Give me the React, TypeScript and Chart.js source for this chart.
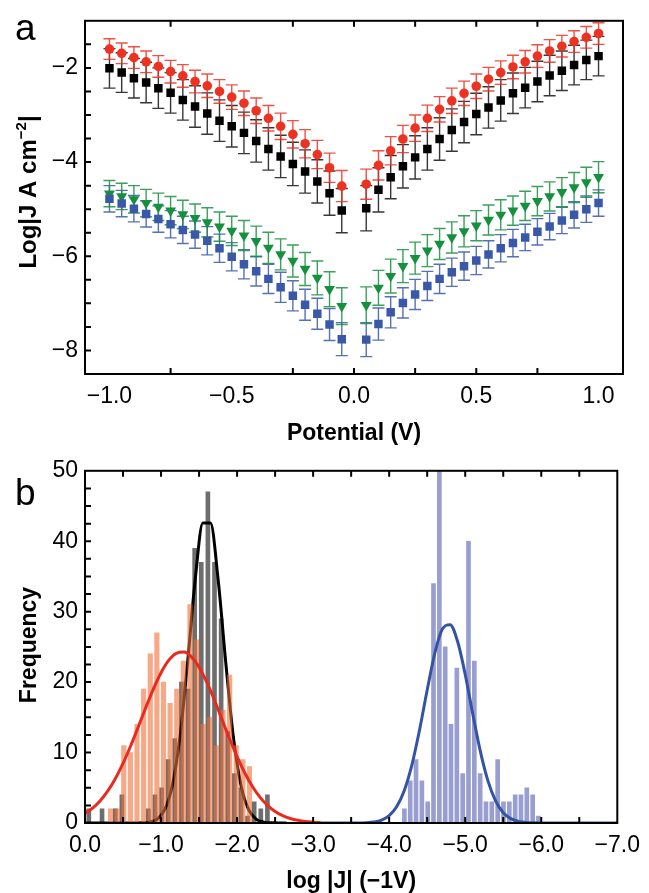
import React, { useEffect, useRef } from 'react';
import { Chart, registerables } from 'chart.js';
Chart.register(...registerables);

const FONT = "'Liberation Sans', Arial, Helvetica, sans-serif";
Chart.defaults.font.family = FONT;

// ---------- panel a data ----------
const potentials = [-1.0, -0.95, -0.9, -0.85, -0.8, -0.75, -0.7, -0.65, -0.6, -0.55, -0.5, -0.45, -0.4, -0.35, -0.3, -0.25, -0.2, -0.15, -0.1, -0.05,
  0.05, 0.1, 0.15, 0.2, 0.25, 0.3, 0.35, 0.4, 0.45, 0.5, 0.55, 0.6, 0.65, 0.7, 0.75, 0.8, 0.85, 0.9, 0.95, 1.0];
const redLogJ = [-1.60, -1.69, -1.78, -1.87, -1.97, -2.08, -2.17, -2.29, -2.38, -2.50, -2.62, -2.75, -2.91, -3.07, -3.24, -3.41, -3.61, -3.84, -4.12, -4.51,
  -4.47, -4.07, -3.76, -3.51, -3.28, -3.07, -2.88, -2.70, -2.54, -2.39, -2.24, -2.10, -1.98, -1.87, -1.75, -1.64, -1.54, -1.44, -1.35, -1.27];
const blackLogJ = [-2.01, -2.10, -2.22, -2.31, -2.43, -2.53, -2.68, -2.82, -2.97, -3.12, -3.24, -3.38, -3.55, -3.72, -3.88, -4.04, -4.20, -4.41, -4.66, -5.03,
  -4.98, -4.59, -4.32, -4.09, -3.90, -3.72, -3.51, -3.32, -3.15, -2.98, -2.84, -2.69, -2.54, -2.42, -2.29, -2.16, -2.06, -1.94, -1.83, -1.75];
const greenLogJ = [-4.67, -4.73, -4.79, -4.87, -4.95, -5.03, -5.11, -5.19, -5.28, -5.37, -5.46, -5.56, -5.68, -5.82, -5.96, -6.10, -6.27, -6.46, -6.70, -7.06,
  -7.04, -6.67, -6.42, -6.21, -6.04, -5.88, -5.74, -5.60, -5.47, -5.35, -5.23, -5.12, -5.03, -4.93, -4.83, -4.73, -4.64, -4.54, -4.43, -4.32];
const blueLogJ = [-4.78, -4.88, -4.99, -5.10, -5.21, -5.32, -5.44, -5.54, -5.67, -5.83, -6.01, -6.17, -6.32, -6.48, -6.66, -6.84, -7.03, -7.22, -7.45, -7.76,
  -7.77, -7.44, -7.19, -6.99, -6.81, -6.63, -6.48, -6.34, -6.21, -6.09, -5.96, -5.83, -5.72, -5.60, -5.48, -5.37, -5.24, -5.12, -5.00, -4.87];
const redErr = [0.22, 0.22, 0.23, 0.23, 0.23, 0.24, 0.24, 0.24, 0.25, 0.25, 0.26, 0.26, 0.27, 0.27, 0.28, 0.29, 0.30, 0.30, 0.31, 0.33,
  0.32, 0.31, 0.30, 0.29, 0.28, 0.28, 0.27, 0.27, 0.26, 0.26, 0.25, 0.25, 0.25, 0.24, 0.24, 0.24, 0.23, 0.23, 0.23, 0.23];
const blackErr = [0.42, 0.42, 0.42, 0.43, 0.43, 0.43, 0.43, 0.44, 0.44, 0.44, 0.44, 0.44, 0.45, 0.45, 0.45, 0.46, 0.46, 0.46, 0.47, 0.47,
  0.48, 0.47, 0.46, 0.46, 0.46, 0.45, 0.45, 0.45, 0.44, 0.44, 0.44, 0.44, 0.43, 0.43, 0.43, 0.43, 0.42, 0.42, 0.42, 0.42];
const greenErr = [0.28, 0.28, 0.29, 0.29, 0.29, 0.30, 0.30, 0.30, 0.31, 0.31, 0.31, 0.32, 0.32, 0.33, 0.33, 0.34, 0.35, 0.36, 0.37, 0.39,
  0.39, 0.37, 0.36, 0.35, 0.34, 0.34, 0.33, 0.33, 0.33, 0.32, 0.32, 0.32, 0.31, 0.31, 0.31, 0.31, 0.31, 0.32, 0.32, 0.33];
const blueErr = [0.28, 0.28, 0.28, 0.28, 0.28, 0.29, 0.29, 0.29, 0.30, 0.30, 0.30, 0.31, 0.31, 0.31, 0.32, 0.32, 0.33, 0.33, 0.34, 0.35,
  0.36, 0.34, 0.33, 0.32, 0.32, 0.31, 0.31, 0.30, 0.30, 0.30, 0.29, 0.29, 0.29, 0.28, 0.28, 0.28, 0.28, 0.28, 0.28, 0.28];
const xLabelTicksA = [-1.0, -0.5, 0.0, 0.5, 1.0];
const yLabelTicksA = [-8, -6, -4, -2];
const xMarkTicksA = [-0.75, -0.25, 0.0, 0.25, 0.5, 0.75];
const yMarkTicksA = [-8, -7.5, -7, -6.5, -6, -5.5, -5, -4.5, -4, -3.5, -3, -2.5, -2, -1.5];

// ---------- panel b data ----------
const blackBinX = [-0.05, -0.137, -0.224, -0.311, -0.398, -0.485, -0.572, -0.659, -0.746, -0.833, -0.92, -1.007, -1.094, -1.181, -1.268, -1.355, -1.442, -1.529, -1.616, -1.703, -1.79, -1.877, -1.964, -2.051, -2.138, -2.225, -2.312, -2.399];
const blackCounts = [2, 0, 2, 0, 2, 4, 0, 0, 0, 2, 4, 5, 9, 12, 20, 19, 39, 37, 47, 37, 29, 13, 7, 5, 1, 3, 2, 4];
const orangeBinX = [-0.336, -0.423, -0.51, -0.597, -0.684, -0.771, -0.858, -0.945, -1.032, -1.119, -1.206, -1.293, -1.38, -1.467, -1.554, -1.641, -1.728, -1.815, -1.902, -1.989, -2.076, -2.163];
const orangeCounts = [2, 2, 11, 10, 14, 19, 24, 27, 20, 17, 19, 23, 31, 26, 14, 15, 11, 16, 21, 11, 9, 8];
const blueBinX = [-4.2, -4.277, -4.353, -4.43, -4.507, -4.583, -4.66, -4.737, -4.813, -4.89, -4.967, -5.043, -5.12, -5.197, -5.273, -5.35, -5.427, -5.503, -5.58, -5.657, -5.733, -5.81, -5.887, -5.963];
const blueCounts = [2, 6, 9, 6, 3, 34, 50, 25, 14, 22, 7, 40, 23, 7, 3, 3, 9, 3, 3, 4, 4, 5, 4, 1];
const redFitX = [0, -0.1, -0.2, -0.3, -0.4, -0.5, -0.6, -0.7, -0.8, -0.9, -1.0, -1.1, -1.2, -1.3, -1.4, -1.5, -1.6, -1.7, -1.8, -1.9, -2.0, -2.1, -2.2, -2.3, -2.4, -2.5, -2.6, -2.7, -2.8, -2.9, -3.0, -3.1];
const redFitY = [1.38, 2.12, 3.17, 4.55, 6.32, 8.46, 10.93, 13.63, 16.40, 19.05, 21.34, 23.08, 24.09, 24.26, 23.58, 22.12, 20.02, 17.49, 14.74, 11.99, 9.41, 7.13, 5.21, 3.68, 2.50, 1.64, 1.04, 0.64, 0.38, 0.21, 0.12, 0.06];
const blackFitX = [0, -0.55, -0.65, -0.75, -0.85, -0.95, -1.05, -1.15, -1.25, -1.35, -1.45, -1.55, -1.65, -1.75, -1.85, -1.95, -2.05, -2.15, -2.25, -2.35, -2.45, -2.55, -2.65];
const blackFitY = [0, 0, 0.01, 0.02, 0.13, 0.56, 1.92, 5.39, 12.33, 22.91, 34.64, 42.59, 42.59, 34.64, 22.91, 12.33, 5.39, 1.92, 0.56, 0.13, 0.02, 0, 0];
const blueFitX = [-3.1, -3.3, -3.5, -3.7, -3.8, -3.9, -4.0, -4.1, -4.2, -4.3, -4.4, -4.5, -4.6, -4.7, -4.8, -4.9, -5.0, -5.1, -5.2, -5.3, -5.4, -5.5, -5.6, -5.7, -5.8, -5.9, -6.0, -6.5, -7.0];
const blueFitY = [0, 0, 0.01, 0.05, 0.15, 0.42, 1.05, 2.34, 4.66, 8.30, 13.23, 18.88, 24.10, 27.54, 28.16, 25.76, 21.09, 15.45, 10.13, 5.94, 3.12, 1.47, 0.62, 0.23, 0.08, 0.02, 0, 0, 0];
const xLabelTicksB = [0, -1, -2, -3, -4, -5, -6, -7];
const yLabelTicksB = [0, 10, 20, 30, 40, 50];
const xMarkTicksB = [-0.5, -1, -1.5, -2, -2.5, -3, -3.5, -4, -4.5, -5, -5.5, -6, -6.5];
const yMarkTicksB = [2.5, 5, 7.5, 10, 12.5, 15, 17.5, 20, 22.5, 25, 27.5, 30, 32.5, 35, 37.5, 40, 42.5, 45, 47.5];

const W = 649;
const HA = 450;
const HB = 443;

const minus = (s: string) => s.replace('-', '\u2212');
const fmt1 = (v: number) => minus(Number(v).toFixed(1));
const fmt0 = (v: number) => minus(String(Math.round(Number(v))));

const pairs = (xs: number[], ys: number[]) => xs.map((x, i) => ({ x, y: ys[i] }));

const errorBarPlugin = {
  id: 'errorBars',
  beforeDatasetsDraw(chart: any) {
    const { ctx } = chart;
    const x = chart.scales.x;
    const y = chart.scales.y;
    chart.data.datasets.forEach((ds: any) => {
      if (!ds.errors) return;
      ctx.save();
      ctx.strokeStyle = ds.errorColor;
      ctx.lineWidth = 1.4;
      ds.data.forEach((pt: any, j: number) => {
        const px = x.getPixelForValue(pt.x);
        const yt = y.getPixelForValue(pt.y + ds.errors[j]);
        const yb = y.getPixelForValue(pt.y - ds.errors[j]);
        ctx.beginPath();
        ctx.moveTo(px, yt); ctx.lineTo(px, yb);
        ctx.moveTo(px - 6, yt); ctx.lineTo(px + 6, yt);
        ctx.moveTo(px - 6, yb); ctx.lineTo(px + 6, yb);
        ctx.stroke();
      });
      ctx.restore();
    });
  },
};

function framePlugin(xMarks: number[], yMarks: number[], decorate: (ctx: CanvasRenderingContext2D, chart: any) => void) {
  return {
    id: 'frameTicks',
    afterDraw(chart: any) {
      const { ctx, chartArea: a } = chart;
      const x = chart.scales.x;
      const y = chart.scales.y;
      ctx.save();
      ctx.strokeStyle = '#000';
      ctx.lineWidth = 2;
      ctx.strokeRect(a.left, a.top, a.right - a.left, a.bottom - a.top);
      ctx.beginPath();
      xMarks.forEach((v) => {
        const px = x.getPixelForValue(v);
        ctx.moveTo(px, a.bottom); ctx.lineTo(px, a.bottom - 6);
        ctx.moveTo(px, a.top); ctx.lineTo(px, a.top + 6);
      });
      yMarks.forEach((v) => {
        const py = y.getPixelForValue(v);
        ctx.moveTo(a.left, py); ctx.lineTo(a.left + 6, py);
      });
      ctx.stroke();
      ctx.fillStyle = '#000';
      decorate(ctx, chart);
      ctx.restore();
    },
  };
}

function drawRotated(ctx: CanvasRenderingContext2D, cx: number, cy: number, parts: { t: string; size: number; rise: number }[]) {
  ctx.save();
  ctx.translate(cx, cy);
  ctx.rotate(-Math.PI / 2);
  let total = 0;
  const widths = parts.map((p) => {
    ctx.font = `bold ${p.size}px ${FONT}`;
    const w = ctx.measureText(p.t).width;
    total += w;
    return w;
  });
  let x0 = -total / 2;
  ctx.textBaseline = 'alphabetic';
  ctx.textAlign = 'left';
  parts.forEach((p, i) => {
    ctx.font = `bold ${p.size}px ${FONT}`;
    ctx.fillText(p.t, x0, 8.5 - p.rise);
    x0 += widths[i];
  });
  ctx.restore();
}

const tickFont = { size: 23, family: FONT };

export default function App() {
  const refA = useRef<HTMLCanvasElement>(null);
  const refB = useRef<HTMLCanvasElement>(null);

  useEffect(() => {
    const decorateA = (ctx: CanvasRenderingContext2D, chart: any) => {
      const a = chart.chartArea;
      ctx.font = `37px ${FONT}`;
      ctx.textAlign = 'left';
      ctx.textBaseline = 'alphabetic';
      ctx.fillText('a', 15, 40);
      ctx.font = `bold 23px ${FONT}`;
      ctx.textAlign = 'center';
      ctx.fillText('Potential (V)', (a.left + a.right) / 2, 440);
      drawRotated(ctx, 27, 192, [
        { t: 'Log|J A cm', size: 24, rise: 0 },
        { t: '\u22122', size: 15, rise: 10 },
        { t: '|', size: 24, rise: 0 },
      ]);
    };
    const chartA = new Chart(refA.current!, {
      type: 'scatter',
      data: {
        datasets: [
          { label: 'black', data: pairs(potentials, blackLogJ), errors: blackErr, errorColor: 'rgba(20,20,20,0.85)', pointStyle: 'rect', pointRadius: 6.0, backgroundColor: '#000', borderWidth: 0 } as any,
          { label: 'red', data: pairs(potentials, redLogJ), errors: redErr, errorColor: 'rgba(236,50,36,0.85)', pointStyle: 'circle', pointRadius: 4.8, backgroundColor: '#ec3223', borderWidth: 0 } as any,
          { label: 'blue', data: pairs(potentials, blueLogJ), errors: blueErr, errorColor: 'rgba(58,88,168,0.85)', pointStyle: 'rect', pointRadius: 6.0, backgroundColor: '#3a58a8', borderWidth: 0 } as any,
          { label: 'green', data: pairs(potentials, greenLogJ), errors: greenErr, errorColor: 'rgba(22,145,62,0.85)', pointStyle: 'triangle', rotation: 180, pointRadius: 6.3, backgroundColor: '#15903e', borderWidth: 0 } as any,
        ],
      },
      options: {
        responsive: false,
        maintainAspectRatio: false,
        animation: false,
        devicePixelRatio: 1,
        layout: { padding: { left: 0, right: 26, top: 17, bottom: 0 } },
        plugins: { legend: { display: false }, tooltip: { enabled: false } },
        scales: {
          x: {
            type: 'linear', min: -1.1, max: 1.1,
            afterBuildTicks: (s: any) => { s.ticks = xLabelTicksA.map((v) => ({ value: v })); },
            afterFit: (s: any) => { s.height = 76; },
            ticks: { callback: (v: any) => fmt1(v), font: tickFont, color: '#000', padding: 9, maxRotation: 0, autoSkip: false },
            grid: { display: false, drawTicks: false },
            border: { display: false },
          },
          y: {
            type: 'linear', min: -8.5, max: -1.0,
            afterBuildTicks: (s: any) => { s.ticks = yLabelTicksA.map((v) => ({ value: v })); },
            afterFit: (s: any) => { s.width = 85; },
            ticks: { callback: (v: any) => fmt0(v), font: tickFont, color: '#000', padding: 7, autoSkip: false },
            grid: { display: false, drawTicks: false },
            border: { display: false },
          },
        },
      } as any,
      plugins: [errorBarPlugin, framePlugin(xMarkTicksA, yMarkTicksA, decorateA)],
    });

    const decorateB = (ctx: CanvasRenderingContext2D, chart: any) => {
      const a = chart.chartArea;
      ctx.font = `37px ${FONT}`;
      ctx.textAlign = 'left';
      ctx.textBaseline = 'alphabetic';
      ctx.fillText('b', 15, 55);
      ctx.font = `bold 23px ${FONT}`;
      ctx.textAlign = 'center';
      ctx.fillText('log |J| (\u22121V)', (a.left + a.right) / 2, 438);
      drawRotated(ctx, 27, 195, [{ t: 'Frequency', size: 23, rise: 0 }]);
    };
    const chartB = new Chart(refB.current!, {
      type: 'bar',
      data: {
        datasets: [
          { type: 'bar', label: 'black hist', data: pairs(blackBinX, blackCounts), backgroundColor: '#6e6e6e', barThickness: 4, grouped: false, order: 6 } as any,
          { type: 'line', label: 'black fit', data: pairs(blackFitX, blackFitY), borderColor: '#000', borderWidth: 3, pointRadius: 0, cubicInterpolationMode: 'monotone', order: 5 } as any,
          { type: 'bar', label: 'orange hist', data: pairs(orangeBinX, orangeCounts), backgroundColor: 'rgba(242,110,53,0.6)', barThickness: 4.5, grouped: false, order: 4 } as any,
          { type: 'line', label: 'red fit', data: pairs(redFitX, redFitY), borderColor: '#ea2a1e', borderWidth: 3, pointRadius: 0, cubicInterpolationMode: 'monotone', order: 3 } as any,
          { type: 'bar', label: 'blue hist', data: pairs(blueBinX, blueCounts), backgroundColor: '#989ed0', barThickness: 4, grouped: false, order: 2 } as any,
          { type: 'line', label: 'blue fit', data: pairs(blueFitX, blueFitY), borderColor: '#3553a4', borderWidth: 3, pointRadius: 0, cubicInterpolationMode: 'monotone', order: 1 } as any,
        ],
      },
      options: {
        responsive: false,
        maintainAspectRatio: false,
        animation: false,
        devicePixelRatio: 1,
        layout: { padding: { left: 0, right: 26, top: 15, bottom: 0 } },
        plugins: { legend: { display: false }, tooltip: { enabled: false } },
        scales: {
          x: {
            type: 'linear', min: -7, max: 0, reverse: true, offset: false,
            afterBuildTicks: (s: any) => { s.ticks = xLabelTicksB.map((v) => ({ value: v })); },
            afterFit: (s: any) => { s.height = 70; },
            ticks: { callback: (v: any) => fmt1(v), font: tickFont, color: '#000', padding: 9, maxRotation: 0, autoSkip: false },
            grid: { display: false, drawTicks: false, offset: false },
            border: { display: false },
          },
          y: {
            type: 'linear', min: 0, max: 50,
            afterBuildTicks: (s: any) => { s.ticks = yLabelTicksB.map((v) => ({ value: v })); },
            afterFit: (s: any) => { s.width = 85; },
            ticks: { callback: (v: any) => fmt0(v), font: tickFont, color: '#000', padding: 7, autoSkip: false },
            grid: { display: false, drawTicks: false },
            border: { display: false },
          },
        },
      } as any,
      plugins: [framePlugin(xMarkTicksB, yMarkTicksB, decorateB)],
    });

    return () => { chartA.destroy(); chartB.destroy(); };
  }, []);

  return (
    <div style={{ position: 'absolute', left: 0, top: 0, width: W, height: HA + HB, background: '#fff' }}>
      <canvas ref={refA} width={W} height={HA} style={{ position: 'absolute', left: 0, top: 0, display: 'block' }} />
      <canvas ref={refB} width={W} height={HB} style={{ position: 'absolute', left: 0, top: HA, display: 'block' }} />
    </div>
  );
}
